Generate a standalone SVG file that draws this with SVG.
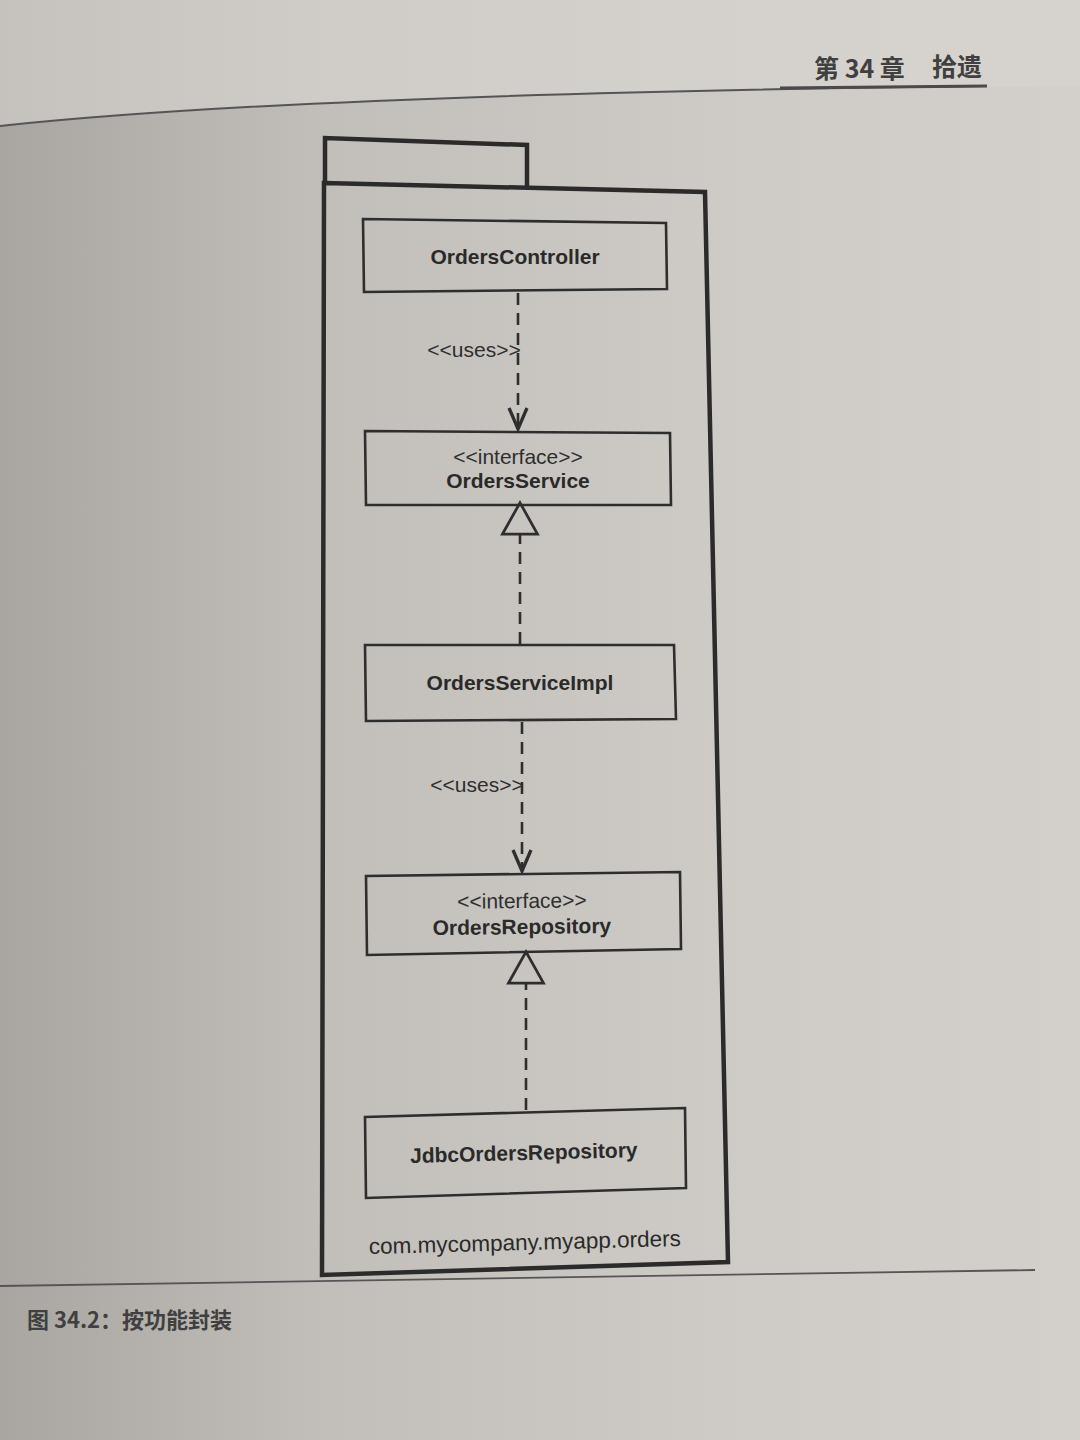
<svg xmlns="http://www.w3.org/2000/svg" width="1080" height="1440" viewBox="0 0 1080 1440">
<defs>
<linearGradient id="bg" x1="0" y1="0" x2="1" y2="0">
<stop offset="0" stop-color="#a9a6a1"/>
<stop offset="0.3" stop-color="#c2bfba"/>
<stop offset="0.7" stop-color="#cfccc7"/>
<stop offset="1" stop-color="#d3d0cb"/>
</linearGradient>
<marker id="open" markerUnits="userSpaceOnUse" markerWidth="30" markerHeight="30" viewBox="-16 -10 20 20" refX="0" refY="0" orient="auto">
<path d="M-14,-6 L0,0 L-14,6" fill="none" stroke="#2e2e2e" stroke-width="2.2"/>
</marker>
<marker id="tri" markerUnits="userSpaceOnUse" markerWidth="40" markerHeight="40" viewBox="-2 -16 32 32" refX="0" refY="0" orient="auto">
<path d="M0,-14 L25,0 L0,14 Z" fill="none" stroke="#2e2e2e" stroke-width="2.2"/>
</marker>
</defs>
<style>
.box{fill:none;stroke:#2e2e2e;stroke-width:2.6;stroke-linejoin:miter}
.pkg{fill:none;stroke:#2b2b2b;stroke-width:4.5;stroke-linejoin:miter}
.name{font-family:"Liberation Sans",Arial,sans-serif;font-weight:bold;font-size:21px;fill:#2a2a2a;text-anchor:middle}
.st{font-family:"Liberation Sans",Arial,sans-serif;font-size:21px;fill:#2f2f2f;text-anchor:middle}
.pl{font-family:"Liberation Sans",Arial,sans-serif;font-size:22.5px;fill:#2a2a2a;text-anchor:middle}
.dash{fill:none;stroke:#2e2e2e;stroke-width:2.6;stroke-dasharray:12 8}
.hdr{font-family:"Noto Sans CJK SC","Noto Sans",sans-serif;font-weight:bold;fill:#404040}
</style>
<rect x="0" y="0" width="1080" height="1440" fill="url(#bg)"/>
<path d="M0,0 L1080,0 L1080,86 Q400,88 0,126 Z" fill="#d8d6d2" opacity="0.6"/>

<g id="header">
<path d="M0,126 Q300,94 987,86" fill="none" stroke="#555" stroke-width="2"/>
<path d="M780,88 L987,86" fill="none" stroke="#4a4a4a" stroke-width="3"/>
<text class="hdr" x="814" y="78" font-size="25">第 34 章</text>
<text class="hdr" x="932" y="76" font-size="25">拾遗</text>
</g>

<g id="package">
<path class="pkg" d="M325,185 L325,138 L527,145 L527,188"/>
<path class="pkg" d="M324,183 L705,192 L728,1262 L322,1275 Z"/>
<text class="pl" x="525" y="1250" transform="rotate(-1.5 525 1250)">com.mycompany.myapp.orders</text>
</g>

<g id="OrdersController">
<path class="box" d="M363,219 L666,223 L667,289 L364,292 Z"/>
<text class="name" x="515" y="264">OrdersController</text>
</g>

<g id="OrdersService">
<path class="box" d="M365,431 L670,433 L671,505 L366,505 Z"/>
<text class="st" x="518" y="464">&lt;&lt;interface&gt;&gt;</text>
<text class="name" x="518" y="488">OrdersService</text>
</g>

<g id="OrdersServiceImpl">
<path class="box" d="M365,645 L674,645 L676,719 L366,721 Z"/>
<text class="name" x="520" y="690">OrdersServiceImpl</text>
</g>

<g id="OrdersRepository">
<path class="box" d="M366,876 L680,872 L681,949 L367,955 Z"/>
<text class="st" x="522" y="908" transform="rotate(-0.7 522 908)">&lt;&lt;interface&gt;&gt;</text>
<text class="name" x="522" y="934" transform="rotate(-0.7 522 934)">OrdersRepository</text>
</g>

<g id="JdbcOrdersRepository">
<path class="box" d="M365,1117 L685,1108 L686,1188 L366,1198 Z"/>
<text class="name" x="524" y="1160" transform="rotate(-1.5 524 1160)">JdbcOrdersRepository</text>
</g>

<g id="connectors">
<line class="dash" x1="518" y1="293" x2="518" y2="429" marker-end="url(#open)"/>
<text class="st" x="474" y="357">&lt;&lt;uses&gt;&gt;</text>
<line class="dash" x1="520" y1="644" x2="520" y2="534" marker-end="url(#tri)"/>
<line class="dash" x1="522" y1="722" x2="522" y2="871" marker-end="url(#open)"/>
<text class="st" x="477" y="792">&lt;&lt;uses&gt;&gt;</text>
<line class="dash" x1="526" y1="1110" x2="526" y2="983" marker-end="url(#tri)"/>
</g>

<g id="caption">
<path d="M0,1286 L1035,1270" fill="none" stroke="#555" stroke-width="1.8"/>
<text class="hdr" x="27" y="1328" font-size="22" fill="#2f2f2f">图 34.2：按功能封装</text>
</g>
</svg>
